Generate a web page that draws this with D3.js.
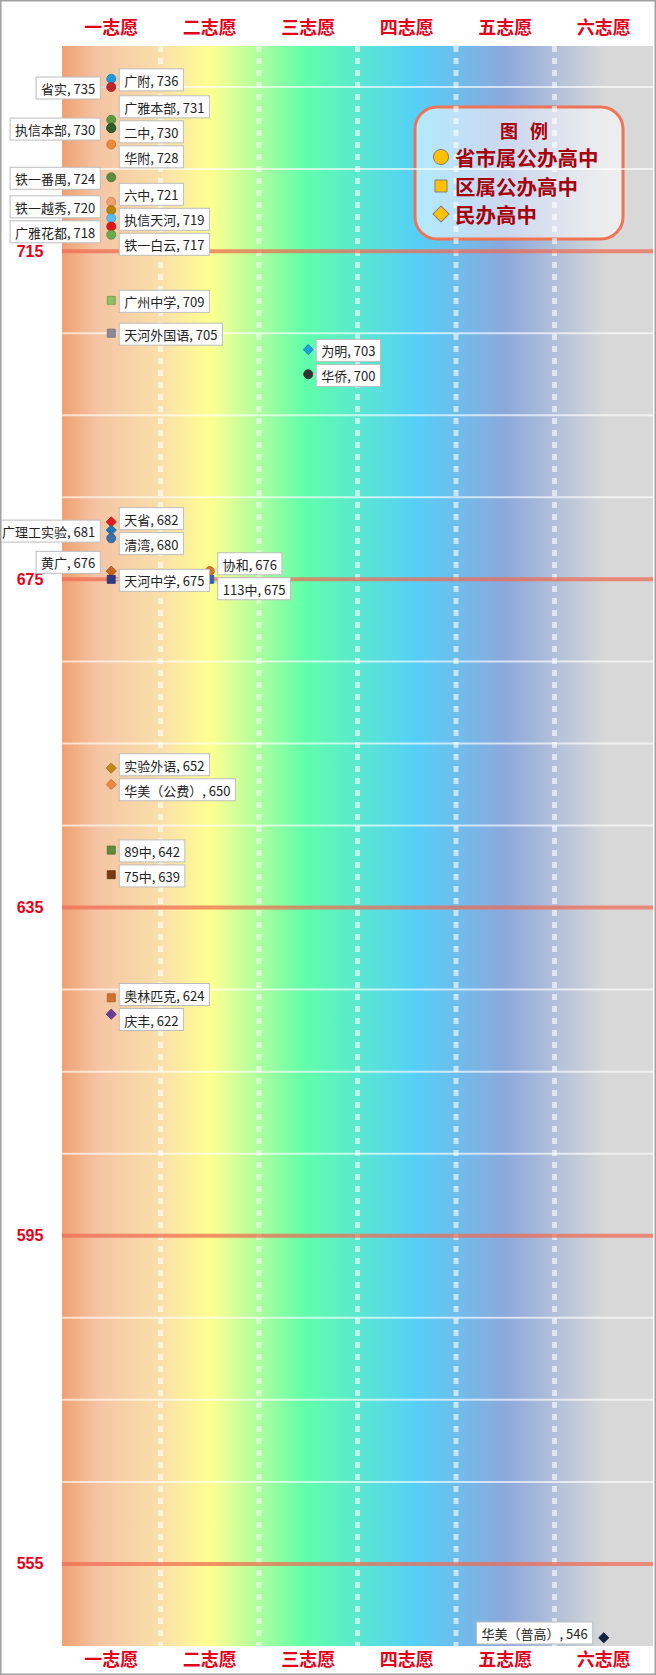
<!DOCTYPE html>
<html><head><meta charset="utf-8">
<script src="https://cdn.jsdelivr.net/npm/d3@7/dist/d3.min.js"></script>
<style>html,body{margin:0;padding:0;background:#fff;} svg{display:block;}</style>
</head><body><div id="chart"></div>
<script>
// ---------- data ----------
const choices = ["一志愿","二志愿","三志愿","四志愿","五志愿","六志愿"];
const schoolNames = ["广附","省实","广雅本部","执信本部","二中","华附","铁一番禺","六中","铁一越秀","执信天河","广雅花都","铁一白云",
  "广州中学","天河外国语","天省","广理工实验","清湾","黄广","天河中学","实验外语","华美（公费）","89中","75中","奥林匹克","庆丰",
  "协和","113中","为明","华侨","华美（普高）"];
const scores = [736,735,731,730,730,728,724,721,720,719,718,717,709,705,682,681,680,676,675,652,650,642,639,624,622,676,675,703,700,546];
const choiceOf = ["一志愿","一志愿","一志愿","一志愿","一志愿","一志愿","一志愿","一志愿","一志愿","一志愿","一志愿","一志愿",
  "一志愿","一志愿","一志愿","一志愿","一志愿","一志愿","一志愿","一志愿","一志愿","一志愿","一志愿","一志愿","一志愿",
  "二志愿","二志愿","三志愿","三志愿","六志愿"];
const legendTypes = ["省市属公办高中","区属公办高中","民办高中"];
const schoolTypes = ["省市属公办高中","省市属公办高中","省市属公办高中","省市属公办高中","省市属公办高中","省市属公办高中","省市属公办高中",
  "省市属公办高中","省市属公办高中","省市属公办高中","省市属公办高中","省市属公办高中",
  "区属公办高中","区属公办高中","民办高中","民办高中","省市属公办高中","民办高中","区属公办高中","民办高中","民办高中",
  "区属公办高中","区属公办高中","区属公办高中","民办高中","省市属公办高中","区属公办高中","民办高中","省市属公办高中","民办高中"];
const majorTicks = [715,675,635,595,555];
const minorTicks = [735,725,705,695,685,665,655,645,625,615,605,585,575,565];
const yDomain = [545,740];

// ---------- label layout hints & styles ----------
const labelSide = ["R","L","R","L","R","R","L","R","L","R","L","R","R","R","R","L","R","L","R","R","R","R","R","R","R","R","R","R","R","L"];
const markerColors = ["#1b9be0","#c0272d","#5b9b3e","#3f6f35","#2f5f2a","#ef8a3a","#5a8f3a","#f2a070","#b8860b","#56bff0","#e0161b","#6aaa4a",
  "#8cc05a","#8a8a96","#e41a1c","#1f78b4","#3b70a8","#c8651b","#2e3a87","#c08a1e","#ee8844","#5d8a3c","#7b3a12","#d2702e","#6a3d9a",
  "#e0731f","#3566b5","#1e9fe0","#333333","#14233f"];
const bgStops = [[0,"#f0a070"],[0.06,"#f5c4a4"],[0.17,"#fae0aa"],[0.25,"#ffff90"],[0.41,"#60ffaa"],[0.60,"#55cff8"],[0.75,"#8ca8dc"],[0.92,"#d8d8d8"],[1,"#d8d8d8"]];

// ---------- chart ----------
const W = 656, H = 1675;
const m = {left:62, right:3, top:46, bottom:29};
const svg = d3.select("#chart").append("svg").attr("width",W).attr("height",H);
const x = d3.scaleBand().domain(choices).range([m.left, W-m.right]).padding(0);
const y = d3.scaleLinear().domain(yDomain).range([H-m.bottom, m.top]);
const x0 = m.left, x1 = W-m.right, y0 = m.top, y1 = H-m.bottom;

const defs = svg.append("defs");
const grad = defs.append("linearGradient").attr("id","bg").attr("x1","0").attr("x2","1").attr("y1","0").attr("y2","0");
bgStops.forEach(s=>grad.append("stop").attr("offset",s[0]).attr("stop-color",s[1]));

svg.append("rect").attr("x",x0).attr("y",y0).attr("width",x1-x0).attr("height",y1-y0).attr("fill","url(#bg)");

// legend box (below grid lines)
const lg = {x:415, y:107, w:208, h:132};
svg.append("rect").attr("x",lg.x).attr("y",lg.y).attr("width",lg.w).attr("height",lg.h).attr("rx",22)
  .attr("fill","rgba(255,255,255,0.55)").attr("stroke","#ee7357").attr("stroke-width",3);

// minor horizontal lines
svg.append("g").selectAll("line").data(minorTicks).join("line")
  .attr("x1",x0).attr("x2",x1).attr("y1",d=>y(d)).attr("y2",d=>y(d))
  .attr("stroke","rgba(255,255,255,0.65)").attr("stroke-width",2);

// vertical dashed separators
svg.append("g").selectAll("line").data(choices.slice(1)).join("line")
  .attr("x1",d=>x(d)).attr("x2",d=>x(d)).attr("y1",y0).attr("y2",y1)
  .attr("stroke","rgba(255,255,255,0.6)").attr("stroke-width",5).attr("stroke-dasharray","6,6");

// major lines
svg.append("g").selectAll("line").data(majorTicks).join("line")
  .attr("x1",x0).attr("x2",x1).attr("y1",d=>y(d)).attr("y2",d=>y(d))
  .attr("stroke","rgba(240,105,80,0.72)").attr("stroke-width",4);

// y labels
svg.append("g").selectAll("text").data(majorTicks).join("text")
  .attr("x",30).attr("y",d=>y(d)).attr("text-anchor","middle").attr("dominant-baseline","central")
  .attr("font-family","'Liberation Sans', Arial, sans-serif").attr("font-weight","bold").attr("font-size",16)
  .attr("fill","#e5001a").text(d=>d);

// column headers top & bottom
[26, 1658].forEach(yy=>{
  svg.append("g").selectAll("text").data(choices).join("text")
    .attr("x",d=>x(d)+x.bandwidth()/2).attr("y",yy).attr("text-anchor","middle").attr("dominant-baseline","central")
    .attr("font-family","'Noto Sans CJK SC', sans-serif").attr("font-weight","bold").attr("font-size",18)
    .attr("fill","#e5001a").text(d=>d);
});

// points
const points = schoolNames.map((n,i)=>({
  name:n, score:scores[i], choice:choiceOf[i], type:schoolTypes[i], side:labelSide[i], color:markerColors[i],
  x: x(choiceOf[i]) + x.bandwidth()/2, y: y(scores[i]), text: `${n}, ${scores[i]}`
}));

const lineG = svg.append("g"), markG = svg.append("g"), labG = svg.append("g");

// measure labels
const FS = 13, BH = 22, GAP = 3, OFF = 1;
const measure = svg.append("text").attr("font-family","'Noto Sans CJK SC', sans-serif").attr("font-size",FS);
points.forEach(p=>{ measure.text(p.text); p.bw = measure.node().getComputedTextLength() + 10; });
measure.remove();

// 1-D cluster layout per column & side
const groups = d3.group(points, p=>p.choice+"|"+p.side);
for (const g of groups.values()) {
  const items = g.slice().sort((a,b)=>a.y-b.y);
  const place = c => { const n=c.items.length, mean=c.sum/n, span=(n-1)*(BH+GAP);
    c.top = mean - span/2 - BH/2; c.bottom = c.top + span + BH; };
  let clusters = items.map(it=>({items:[it], sum:it.y+OFF}));
  clusters.forEach(place);
  let merged = true;
  while (merged) {
    merged = false;
    for (let i=1;i<clusters.length;i++) {
      if (clusters[i].top < clusters[i-1].bottom + GAP) {
        const c = {items:clusters[i-1].items.concat(clusters[i].items), sum:clusters[i-1].sum+clusters[i].sum};
        place(c); clusters.splice(i-1,2,c); merged = true; break;
      }
    }
  }
  clusters.forEach(c=>{
    if (c.bottom > y1 - 2) { const d = c.bottom - (y1-2); c.top -= d; c.bottom -= d; }
    c.items.forEach((it,k)=>{ it.by = c.top + k*(BH+GAP); });
  });
}
points.forEach(p=>{ p.bx = p.side==="R" ? p.x + 8 : p.x - 11 - p.bw; });

// keep left-side labels clear of the y-axis tick labels
points.filter(p=>p.side==="L" && p.bx < 48).forEach(p=>{
  majorTicks.forEach(t=>{
    const ty = y(t);
    if (p.by < ty + 8 && p.by + BH > ty - 8) {
      p.by = p.y <= ty ? ty - 6 - BH : ty + 6;
    }
  });
});

// leader lines
lineG.selectAll("line").data(points).join("line")
  .attr("x1",p=>p.x).attr("y1",p=>p.y)
  .attr("x2",p=>p.side==="R" ? p.bx+1 : p.bx+p.bw-1)
  .attr("y2",p=>Math.max(p.by+6, Math.min(p.by+BH-6, p.y)))
  .attr("stroke","#d4d4d4").attr("stroke-width",1.6);

// markers
const shapeOf = t => t===legendTypes[0] ? d3.symbolCircle : d3.symbolSquare;
const sizeOf = t => t===legendTypes[0] ? 64 : (t===legendTypes[1] ? 64 : 52);
markG.selectAll("path").data(points).join("path")
  .attr("d",p=>d3.symbol(shapeOf(p.type), sizeOf(p.type))())
  .attr("transform",p=>`translate(${p.x},${p.y}) rotate(${p.type===legendTypes[2]?45:0})`)
  .attr("fill",p=>p.color).attr("stroke",p=>d3.color(p.color).darker(0.6)).attr("stroke-width",0.8);

// label boxes
labG.selectAll("rect").data(points).join("rect")
  .attr("x",p=>p.bx).attr("y",p=>p.by).attr("width",p=>p.bw).attr("height",BH)
  .attr("fill","#fff").attr("stroke","#bdbdbd").attr("stroke-width",1);
labG.selectAll("text").data(points).join("text")
  .attr("x",p=>p.bx+5).attr("y",p=>p.by+BH/2+0.5).attr("dominant-baseline","central")
  .attr("font-family","'Noto Sans CJK SC', sans-serif").attr("font-size",FS).attr("fill","#222")
  .text(p=>p.text);

// legend contents
const lgCol = "#a8000a";
["图","例"].forEach((c,i)=>{
  svg.append("text").attr("x",509 + i*30).attr("y",130).attr("text-anchor","middle").attr("dominant-baseline","central")
    .attr("font-family","'Noto Sans CJK SC', sans-serif").attr("font-weight","bold").attr("font-size",18)
    .attr("fill",lgCol).text(c);
});
const rowY = [157,186,214];
legendTypes.forEach((t,i)=>{
  svg.append("path").attr("d",d3.symbol(shapeOf(t), t===legendTypes[0]?180:(t===legendTypes[1]?144:130))())
    .attr("transform",`translate(441,${rowY[i]}) rotate(${t===legendTypes[2]?45:0})`)
    .attr("fill","#ffc000").attr("stroke","#7f7f7f").attr("stroke-width",1);
  svg.append("text").attr("x",455).attr("y",rowY[i]).attr("dominant-baseline","central")
    .attr("font-family","'Noto Sans CJK SC', sans-serif").attr("font-weight","bold").attr("font-size",20.5)
    .attr("fill",lgCol).text(t);
});

// outer border
svg.append("rect").attr("x",0.75).attr("y",0.75).attr("width",W-1.5).attr("height",H-1.5)
  .attr("fill","none").attr("stroke","#a0a0a0").attr("stroke-width",1.5);
</script></body></html>
